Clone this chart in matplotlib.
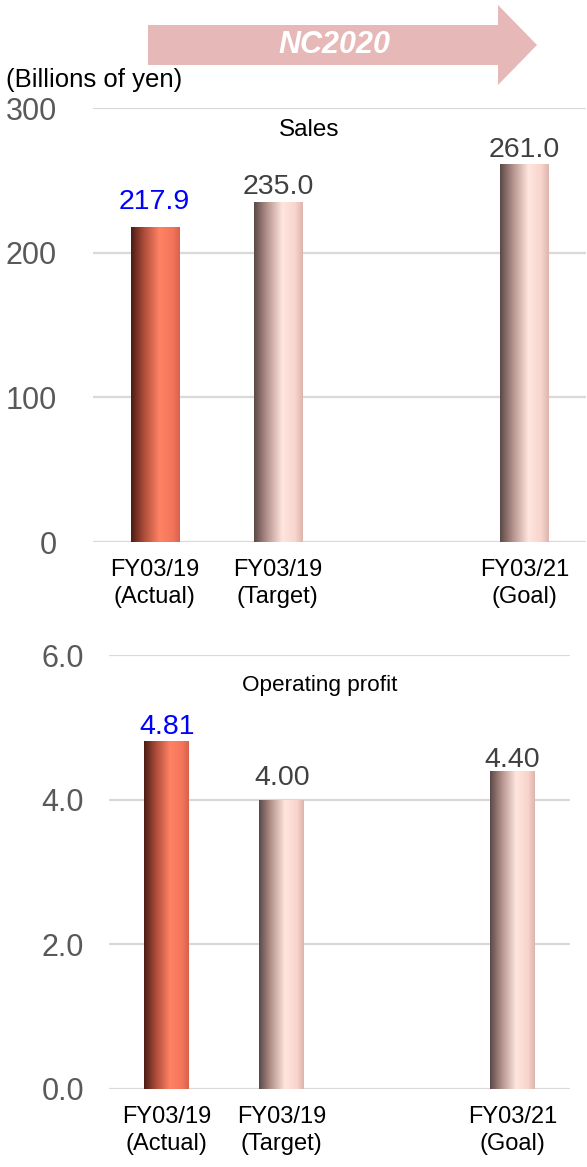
import numpy as np
import matplotlib
matplotlib.use("Agg")
import matplotlib.pyplot as plt
from matplotlib.patches import Polygon
from matplotlib.colors import LinearSegmentedColormap

plt.rcParams['font.family'] = ['Liberation Sans', 'DejaVu Sans']

categories = ["FY03/19\n(Actual)", "FY03/19\n(Target)", "FY03/21\n(Goal)"]
positions = [0, 1, 3]
sales = [217.9, 235.0, 261.0]
sales_labels = ["217.9", "235.0", "261.0"]
profit = [4.81, 4.00, 4.40]
profit_labels = ["4.81", "4.00", "4.40"]
sales_ticks = [0, 100, 200, 300]
sales_ticklabels = ["0", "100", "200", "300"]
profit_ticks = [0.0, 2.0, 4.0, 6.0]
profit_ticklabels = ["0.0", "2.0", "4.0", "6.0"]

W, H = 587, 1167
DPI = 100
fig = plt.figure(figsize=(W / DPI, H / DPI), dpi=DPI)

def frac(x0, y0, x1, y1):
    return [x0 / W, 1 - y1 / H, (x1 - x0) / W, (y1 - y0) / H]

actual_cmap = LinearSegmentedColormap.from_list(
    "act", [(0, "#4a1c14"), (0.25, "#a84a38"), (0.58, "#ff8264"), (0.85, "#f4765a"), (1.0, "#d8604a")])
plan_cmap = LinearSegmentedColormap.from_list(
    "pln", [(0, "#5a4846"), (0.25, "#b08e88"), (0.58, "#ffe6de"), (0.85, "#f8d4cc"), (1.0, "#dcb4ac")])
cmaps = [actual_cmap, plan_cmap, plan_cmap]
label_colors = ["#0000ff", "#404040", "#404040"]

grad = np.linspace(0, 1, 256).reshape(1, -1)

def panel(rect, values, labels, ticks, ticklabels, ylim, offsets_pt):
    ax = fig.add_axes(rect)
    ax.set_xlim(-0.5, 3.5)
    ax.set_ylim(*ylim)
    bars = ax.bar(positions, values, width=0.39, color="none", edgecolor="none", zorder=3)
    for b, cm in zip(bars, cmaps):
        x0 = b.get_x(); w = b.get_width(); h = b.get_height()
        im = ax.imshow(grad, cmap=cm, aspect="auto", extent=(x0, x0 + w, 0, h),
                       zorder=3, interpolation="bicubic")
        im.set_clip_path(b)
    ax.set_xlim(-0.5, 3.5)
    ax.set_ylim(*ylim)
    for p, v, lab, col, off in zip(positions, values, labels, label_colors, offsets_pt):
        ax.annotate(lab, (p, v), xytext=(0, off), textcoords="offset points",
                    ha="center", va="baseline", fontsize=20.5, color=col, zorder=4)
    ax.set_yticks(ticks)
    ax.set_yticklabels(ticklabels, fontsize=22, color="#595959")
    ax.set_xticks(positions)
    ax.set_xticklabels(categories, fontsize=17, color="#000000", linespacing=1.25)
    ax.tick_params(axis="both", length=0)
    ax.tick_params(axis="x", pad=12.5)
    ax.grid(axis="y", color="#d9d9d9", linewidth=1.6, zorder=0)
    ax.set_axisbelow(True)
    for s in ax.spines.values():
        s.set_visible(False)
    return ax

ax1 = panel(frac(93, 108, 586, 542), sales, sales_labels, sales_ticks, sales_ticklabels,
            (0, 300), [12.5, 5.8, 5.0])
ax1.tick_params(axis="y", pad=26)
ax2 = panel(frac(109, 655, 570, 1089), profit, profit_labels, profit_ticks, profit_ticklabels,
            (0, 6.0), [5.0, 10.8, 2.9])
ax2.tick_params(axis="y", pad=18)

fig.text(309 / W, 1 - 130 / H, "Sales", ha="center", va="center", fontsize=17.5, color="#000000")
fig.text(320 / W, 1 - 686 / H, "Operating profit", ha="center", va="center", fontsize=16.2, color="#000000")
fig.text(6 / W, 1 - 80 / H, "(Billions of yen)", ha="left", va="center", fontsize=18.5, color="#000000")

pts = [(148, 25), (498, 25), (498, 5), (537, 45), (498, 85), (498, 65), (148, 65)]
arrow = Polygon([(x / W, 1 - y / H) for x, y in pts], closed=True, transform=fig.transFigure,
                facecolor="#e6b8b7", edgecolor="none")
fig.patches.append(arrow)
fig.text(334 / W, 1 - 45 / H, "NC2020", ha="center", va="center", fontsize=22,
         fontweight="bold", fontstyle="italic", color="white")

fig.savefig("out.png", dpi=DPI)
